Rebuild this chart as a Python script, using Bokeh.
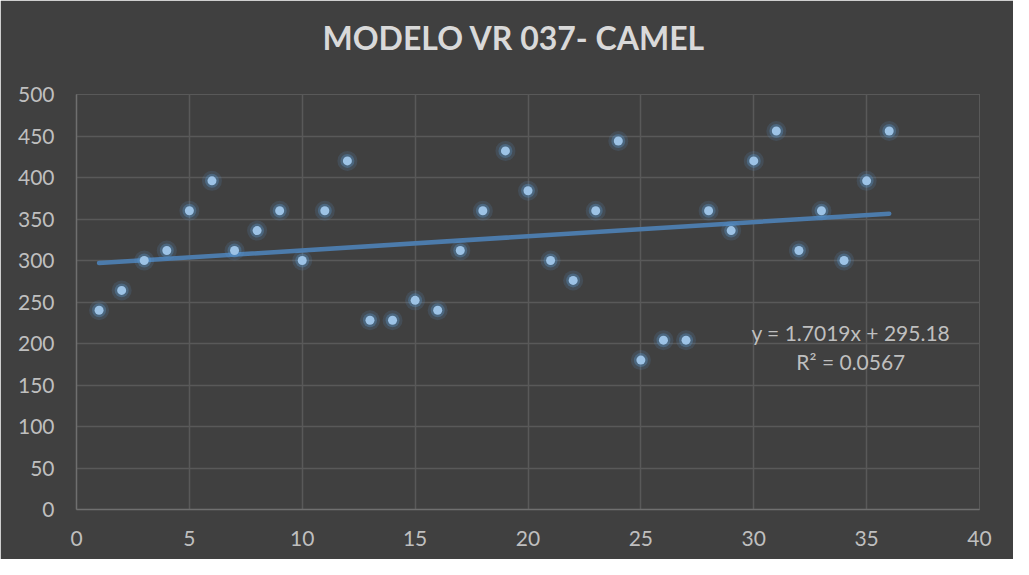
import numpy as np
from bokeh.plotting import figure
from bokeh.models import Range1d, FixedTicker, Label, Title
from bokeh.embed import file_html
from bokeh.resources import INLINE

# Data
x_vals = list(range(1, 37))
y_vals = [240, 264, 300, 312, 360, 396, 312, 336, 360, 300, 360, 420,
          228, 228, 252, 240, 312, 360, 432, 384, 300, 276, 360, 444,
          180, 204, 204, 360, 336, 420, 456, 312, 360, 300, 396, 456]
x_ticks = [0, 5, 10, 15, 20, 25, 30, 35, 40]
y_ticks = [0, 50, 100, 150, 200, 250, 300, 350, 400, 450, 500]
title_text = "MODELO VR 037- CAMEL"
eq_text = "y = 1.7019x + 295.18"
r2_text = "R² = 0.0567"

BG = "#404040"
GRID = "#595959"
AXIS = "#6f6f6f"
TXT = "#bfbfbf"
FONT = "Lato"

p = figure(width=1013, height=559, output_backend="svg", toolbar_location=None,
           x_range=Range1d(0, 40), y_range=Range1d(0, 500),
           background_fill_color=BG, border_fill_color=BG,
           min_border_left=76, min_border_right=34,
           min_border_top=94, min_border_bottom=50)
p.outline_line_color = GRID
p.outline_line_width = 1

for ax in (p.xaxis[0], p.yaxis[0]):
    ax.axis_line_color = AXIS
    ax.axis_line_width = 1.5
    ax.major_tick_line_color = None
    ax.minor_tick_line_color = None
    ax.major_label_text_color = TXT
    ax.major_label_text_font = FONT
    ax.major_label_text_font_size = "21px"
p.xaxis.ticker = FixedTicker(ticks=x_ticks)
p.yaxis.ticker = FixedTicker(ticks=y_ticks)
p.xaxis.major_label_standoff = 15
p.yaxis.major_label_standoff = 16

p.xgrid.ticker = FixedTicker(ticks=x_ticks)
p.ygrid.ticker = FixedTicker(ticks=y_ticks)
p.grid.grid_line_color = GRID
p.grid.grid_line_width = 1.5

# Trendline (least squares fit of the data)
b, a = np.polyfit(x_vals, y_vals, 1)
tx = [min(x_vals), max(x_vals)]
ty = [a + b * t for t in tx]
p.line(tx, ty, line_color="#4c7bab", line_width=4.5, line_cap="round")

# Points with glow
p.scatter(x_vals, y_vals, size=20, fill_color="#5b9bd5", fill_alpha=0.15, line_color=None)
p.scatter(x_vals, y_vals, size=14, fill_color="#5b9bd5", fill_alpha=0.32, line_color=None)
p.scatter(x_vals, y_vals, size=9, fill_color="#9dc3e6", line_color=None)

# Equation labels
p.add_layout(Label(x=34.3, y=213, text=eq_text, text_align="center", text_baseline="alphabetic",
                   text_color=TXT, text_font=FONT, text_font_size="21px"))
p.add_layout(Label(x=34.3, y=178, text=r2_text, text_align="center", text_baseline="alphabetic",
                   text_color=TXT, text_font=FONT, text_font_size="21px"))

# Spacer between frame and title
p.add_layout(Title(text=" ", text_font_size="2px", standoff=34, text_color=BG), "above")

# Title
p.title.text = title_text
p.title.text_color = "#d9d9d9"
p.title.text_font = FONT
p.title.text_font_style = "bold"
p.title.text_font_size = "32px"
p.title.align = "left"
p.title.offset = 246
p.title.standoff = 0

open("out.html", "w").write(file_html(p, INLINE))
